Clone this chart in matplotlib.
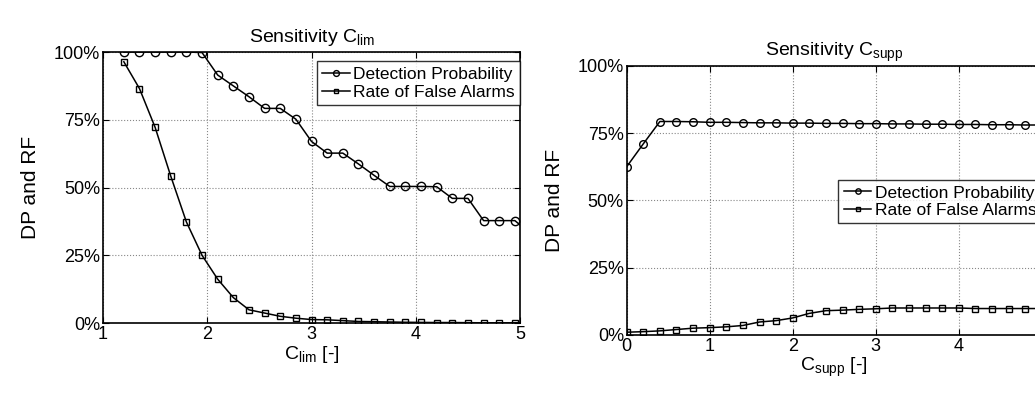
import matplotlib
matplotlib.use("Agg")
import matplotlib.pyplot as plt
import numpy as np
from matplotlib.ticker import FuncFormatter

plt.rcParams['font.family'] = ['Liberation Sans', 'DejaVu Sans']
plt.rcParams['mathtext.fontset'] = 'custom'
plt.rcParams['mathtext.rm'] = 'Liberation Sans'
plt.rcParams['mathtext.it'] = 'Liberation Sans'

# Sensitivity C_lim (left)
c_lim = [1.2, 1.35, 1.5, 1.65, 1.8, 1.95, 2.1, 2.25, 2.4, 2.55, 2.7, 2.85, 3.0,
         3.15, 3.3, 3.45, 3.6, 3.75, 3.9, 4.05, 4.2, 4.35, 4.5, 4.65, 4.8, 4.95, 5.1]
dp_lim = [100, 100, 100, 100, 100, 99.8, 91.5, 87.5, 83.5, 79.2, 79.2, 75.2, 67,
          62.7, 62.7, 58.7, 54.5, 50.4, 50.4, 50.4, 50.3, 46, 46, 37.8, 37.8, 37.8, 33]
rf_lim = [96.4, 86.5, 72.2, 54.2, 37.3, 25, 16.2, 9.4, 4.9, 3.7, 2.5, 1.8, 1.3,
          1.2, 0.9, 0.6, 0.5, 0.4, 0.3, 0.25, 0.2, 0.2, 0.15, 0.1, 0.1, 0.1, 0.1]

# Sensitivity C_supp (right)
c_supp = [0, 0.2, 0.4, 0.6, 0.8, 1.0, 1.2, 1.4, 1.6, 1.8, 2.0, 2.2, 2.4, 2.6,
          2.8, 3.0, 3.2, 3.4, 3.6, 3.8, 4.0, 4.2, 4.4, 4.6, 4.8, 5.0]
dp_supp = [62.5, 71, 79.3, 79.3, 79.2, 79.0, 79.0, 78.9, 78.8, 78.8, 78.7, 78.7, 78.6,
           78.6, 78.5, 78.5, 78.4, 78.4, 78.3, 78.3, 78.2, 78.2, 78.1, 78.1, 78.0, 78.0]
rf_supp = [1, 1.2, 1.5, 2, 2.5, 2.7, 3, 3.5, 4.8, 5.3, 6.3, 8, 9, 9.2,
           9.5, 9.7, 10, 10, 10, 10, 10, 9.8, 9.8, 9.8, 9.8, 9.8]

labels = ['Detection Probability', 'Rate of False Alarms']

fig = plt.figure(figsize=(10.35, 3.94), dpi=100)
ax1 = fig.add_axes([0.0995, 0.180, 0.403, 0.688])
ax2 = fig.add_axes([0.6055, 0.150, 0.401, 0.683])

pct = FuncFormatter(lambda v, p: '%d%%' % v)


def style(ax, xticks):
    ax.set_ylim(0, 100)
    ax.set_yticks([0, 25, 50, 75, 100])
    ax.yaxis.set_major_formatter(pct)
    ax.set_xticks(xticks)
    ax.grid(True, linestyle=':', color='#888888', linewidth=0.8)
    ax.tick_params(direction='in', top=True, right=True, labelsize=13, length=4, pad=2)
    for s in ax.spines.values():
        s.set_linewidth(1.2)
    ax.set_ylabel('DP and RF', fontsize=15, labelpad=10)


ax1.plot(c_lim, dp_lim, '-o', color='k', lw=1.1, ms=6, mfc='none', mew=1.0, label=labels[0])
ax1.plot(c_lim, rf_lim, '-s', color='k', lw=1.1, ms=4.5, mfc='none', mew=1.0, label=labels[1])
ax1.set_xlim(1, 5)
style(ax1, [1, 2, 3, 4, 5])
ax1.set_title(r'Sensitivity $\mathregular{C_{lim}}$', fontsize=14, pad=7)
ax1.set_xlabel(r'$\mathregular{C_{lim}}$ [-]', fontsize=14, labelpad=1)
ax1.legend(loc='upper right', bbox_to_anchor=(1.0, 0.965), fontsize=12.5, frameon=True,
           fancybox=False, edgecolor='k', handlelength=1.6, handletextpad=0.2,
           borderpad=0.3, labelspacing=0.15, borderaxespad=0.0,
           markerscale=0.7).get_frame().set_linewidth(1.0)

ax2.plot(c_supp, dp_supp, '-o', color='k', lw=1.1, ms=5.5, mfc='none', mew=1.0, label=labels[0])
ax2.plot(c_supp, rf_supp, '-s', color='k', lw=1.1, ms=4.5, mfc='none', mew=1.0, label=labels[1])
ax2.set_xlim(0, 5)
style(ax2, [0, 1, 2, 3, 4, 5])
ax2.set_title(r'Sensitivity $\mathregular{C_{supp}}$', fontsize=14, pad=7)
ax2.set_xlabel(r'$\mathregular{C_{supp}}$ [-]', fontsize=14, labelpad=1)
ax2.legend(loc='upper right', bbox_to_anchor=(1.0, 0.575), fontsize=12.5, frameon=True,
           fancybox=False, edgecolor='k', handlelength=1.6, handletextpad=0.2,
           borderpad=0.3, labelspacing=0.15, borderaxespad=0.0,
           markerscale=0.7).get_frame().set_linewidth(1.0)

fig.savefig('out.png', dpi=100)
